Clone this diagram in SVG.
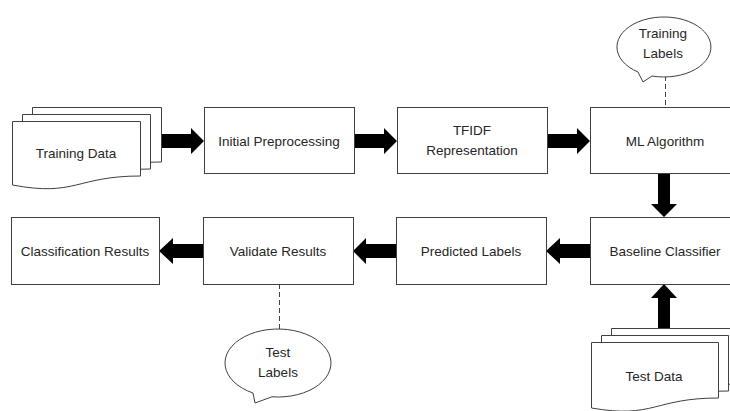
<svg xmlns="http://www.w3.org/2000/svg" width="730" height="411" viewBox="0 0 730 411">
<style>
.box{fill:#fff;stroke:#404040;stroke-width:1}
.doc{fill:#fff;stroke:#404040;stroke-width:1}
.call{fill:#fff;stroke:#404040;stroke-width:1}
.dash{stroke:#404040;stroke-width:1;stroke-dasharray:5,3;fill:none}
.arr{fill:#000}
text{font-family:"Liberation Sans",Arial,sans-serif;font-size:13.5px;fill:#262626;text-anchor:middle}
</style>
<rect width="730" height="411" fill="#fff"/>
<g id="connectors">
<polygon class="arr" points="161,134 191,134 191,128 204,141 191,154 191,148 161,148"/>
<polygon class="arr" points="354,134 384,134 384,128 397,141 384,154 384,148 354,148"/>
<polygon class="arr" points="547,134 577,134 577,128 590,141 577,154 577,148 547,148"/>
<polygon class="arr" points="658,173 670,173 670,204 677,204 664,217 651,204 658,204"/>
<polygon class="arr" points="590,244 560,244 560,238 546,251 560,264 560,258 590,258"/>
<polygon class="arr" points="396,244 366,244 366,238 353,251 366,264 366,258 396,258"/>
<polygon class="arr" points="203,244 173,244 173,238 159,251 173,264 173,258 203,258"/>
<polygon class="arr" points="658,328 670,328 670,298 677,298 664,284 651,298 658,298"/>
<line class="dash" x1="665.5" y1="76" x2="665.5" y2="107"/>
<line class="dash" x1="279.5" y1="284" x2="279.5" y2="329"/>
</g>
<g id="training-data">
<path class="doc" d="M32.5,107.5 H161.5 V162 C96,162 96,183 32.5,176 Z"/>
<path class="doc" d="M22.5,114.5 H150.5 V169 C86,169 86,190 22.5,183 Z"/>
<path class="doc" d="M12.5,121.5 H140.5 V176 C76,176 76,197 12.5,185 Z"/>
<text x="76" y="158">Training Data</text>
</g>
<g id="initial-preprocessing">
<rect class="box" x="204.5" y="107.5" width="150" height="66"/>
<text x="279" y="146">Initial Preprocessing</text>
</g>
<g id="tfidf">
<rect class="box" x="397.5" y="107.5" width="150" height="66"/>
<text x="472" y="135">TFIDF</text>
<text x="472" y="155">Representation</text>
</g>
<g id="ml-algorithm">
<rect class="box" x="590.5" y="107.5" width="150" height="66"/>
<text x="665" y="146">ML Algorithm</text>
</g>
<g id="training-labels">
<path class="call" d="M652,76 A47,30 0 1 0 638,72 L643,82 Z"/>
<text x="663" y="38">Training</text>
<text x="663" y="58">Labels</text>
</g>
<g id="baseline-classifier">
<rect class="box" x="590.5" y="217.5" width="150" height="67"/>
<text x="665" y="256">Baseline Classifier</text>
</g>
<g id="predicted-labels">
<rect class="box" x="396.5" y="217.5" width="150" height="67"/>
<text x="471" y="256">Predicted Labels</text>
</g>
<g id="validate-results">
<rect class="box" x="203.5" y="217.5" width="150" height="67"/>
<text x="278" y="256">Validate Results</text>
</g>
<g id="classification-results">
<rect class="box" x="11.5" y="217.5" width="148" height="67"/>
<text x="85" y="256">Classification Results</text>
</g>
<g id="test-labels">
<path class="call" d="M272,396.8 A53,34 0 1 0 253,393 L255,403 Z"/>
<text x="278" y="357">Test</text>
<text x="278" y="377">Labels</text>
</g>
<g id="test-data">
<path class="doc" d="M611.5,328.5 H738 V384 C674,384 674,405 611.5,397 Z"/>
<path class="doc" d="M601.5,335.5 H728.5 V391 C664,391 664,412 601.5,404 Z"/>
<path class="doc" d="M591.5,342.5 H718.5 V398 C654,398 654,419 591.5,408 Z"/>
<text x="654" y="381">Test Data</text>
</g>
</svg>
